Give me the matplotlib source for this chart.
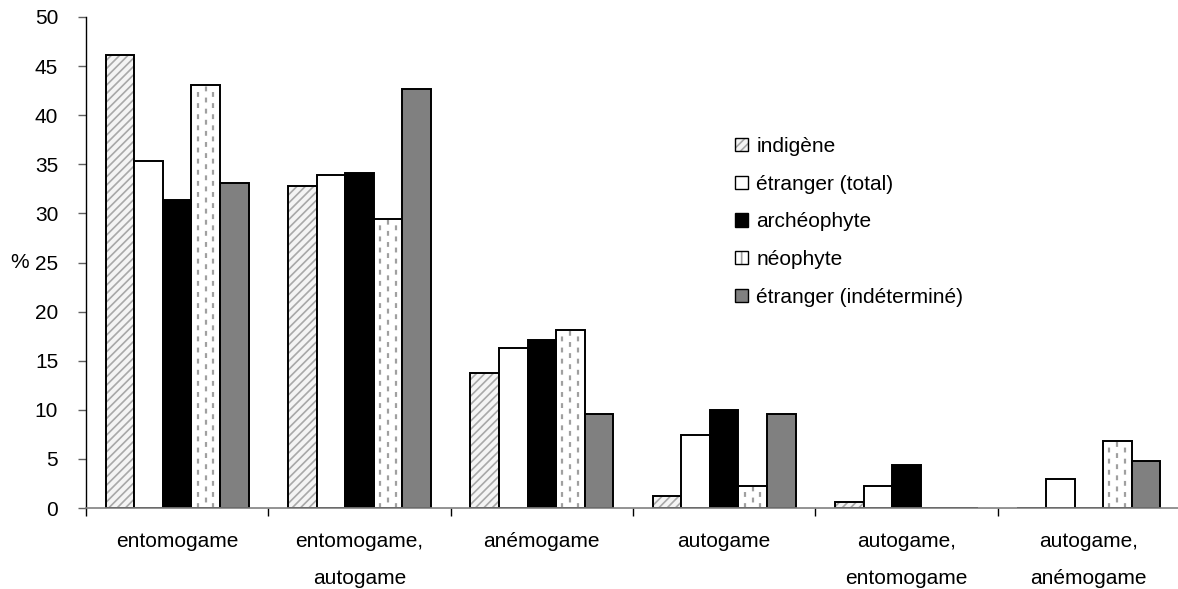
import numpy as np
import matplotlib
matplotlib.use("Agg")
import matplotlib.pyplot as plt
from matplotlib.patches import Patch

plt.rcParams['font.family'] = ['Liberation Sans', 'DejaVu Sans']
plt.rcParams['lines.scale_dashes'] = False
plt.rcParams['hatch.linewidth'] = 1.2

# --- data ---
categories = ['entomogame', 'entomogame,\nautogame', 'anémogame', 'autogame',
              'autogame,\nentomogame', 'autogame,\nanémogame']
series_names = ['indigène', 'étranger (total)', 'archéophyte', 'néophyte',
                'étranger (indéterminé)']
indigene = [46.1, 32.8, 13.7, 1.2, 0.6, 0.0]
etranger_total = [35.3, 33.9, 16.3, 7.4, 2.2, 3.0]
archeophyte = [31.4, 34.1, 17.1, 10.0, 4.4, 0.0]
neophyte = [43.1, 29.4, 18.1, 2.2, 0.0, 6.8]
etranger_indet = [33.1, 42.7, 9.6, 9.6, 0.0, 4.8]
yticks = [0, 5, 10, 15, 20, 25, 30, 35, 40, 45, 50]

FS = 15

# --- figure / axes placement (pixels of a 1178x589 canvas) ---
W, H = 1178, 589
fig = plt.figure(figsize=(W / 100, H / 100), dpi=100)
ax = fig.add_axes([86 / W, (H - 508) / H, 1094 / W, 491 / H])

x = np.arange(len(categories))
bw = 0.157
offsets = (np.arange(5) - 2) * bw
edge_lw = 1.4

# indigène: light hatched
ax.bar(x + offsets[0], indigene, bw, color='#f4f4f4', hatch='////',
       edgecolor='#a8a8a8', linewidth=0, zorder=2)
ax.bar(x + offsets[0], indigene, bw, facecolor='none', edgecolor='black',
       linewidth=edge_lw, zorder=3)
# étranger (total): white
ax.bar(x + offsets[1], etranger_total, bw, color='white', edgecolor='black',
       linewidth=edge_lw, zorder=3)
# archéophyte: black
ax.bar(x + offsets[2], archeophyte, bw, color='black', edgecolor='black',
       linewidth=edge_lw, zorder=3)
# néophyte: white with dashed vertical strokes
ax.bar(x + offsets[3], neophyte, bw, color='white', linewidth=0, zorder=2)
neo_bars = ax.bar(x + offsets[3], neophyte, bw, facecolor='none',
                  edgecolor='black', linewidth=edge_lw, zorder=3)
for b in neo_bars:
    h = b.get_height()
    if h <= 0:
        continue
    x0, w = b.get_x(), b.get_width()
    for frac, phase in [(0.22, 0), (0.49, 4), (0.76, 0)]:
        ax.vlines(x0 + frac * w, 0, h, colors='#a0a0a0', linewidth=1.6,
                  linestyles=[(phase, (3.5, 4.5))], zorder=2.5)
# étranger (indéterminé): mid gray
ax.bar(x + offsets[4], etranger_indet, bw, color='#808080', edgecolor='black',
       linewidth=edge_lw, zorder=3)

# --- axes styling ---
ax.set_xlim(-0.5, len(categories) - 0.5)
ax.set_ylim(0, 50)
ax.set_yticks(yticks)
ax.tick_params(axis='y', labelsize=FS, length=6, width=1, color='#606060',
               pad=14)
ax.set_xticks(np.arange(len(categories) + 1) - 0.5)
ax.set_xticklabels([])
ax.tick_params(axis='x', which='major', length=6, width=1, color='black')
ax.set_xticks(x, minor=True)
ax.set_xticklabels(categories, minor=True, fontsize=FS, linespacing=2.2,
                   va='top')
ax.tick_params(axis='x', which='minor', length=0, pad=17)

for s in ['top', 'right']:
    ax.spines[s].set_visible(False)
ax.spines['left'].set_color('black')
ax.spines['left'].set_linewidth(1)
ax.spines['bottom'].set_color('#808080')
ax.spines['bottom'].set_linewidth(1.2)
ax.spines['bottom'].set_zorder(3.5)

ax.set_ylabel('%', rotation=0, fontsize=FS, va='center', ha='center')
ax.yaxis.set_label_coords(-0.061, 0.5)

# --- legend ---
h_ind = (Patch(facecolor='#f4f4f4', hatch='////', edgecolor='#a8a8a8',
               linewidth=0),
         Patch(facecolor='none', edgecolor='black', linewidth=1))
h_tot = Patch(facecolor='white', edgecolor='black', linewidth=1)
h_arc = Patch(facecolor='black', edgecolor='black', linewidth=1)
h_neo = (Patch(facecolor='white', hatch='|', edgecolor='#a0a0a0', linewidth=0),
         Patch(facecolor='none', edgecolor='black', linewidth=1))
h_ind2 = Patch(facecolor='#808080', edgecolor='black', linewidth=1)
ax.legend([h_ind, h_tot, h_arc, h_neo, h_ind2], series_names,
          loc='upper left', bbox_to_anchor=(0.586, 0.773),
          frameon=False, fontsize=FS, handlelength=0.6, handleheight=0.6,
          handletextpad=0.4, labelspacing=0.9, borderaxespad=0)

fig.savefig('out.png', dpi=100)
